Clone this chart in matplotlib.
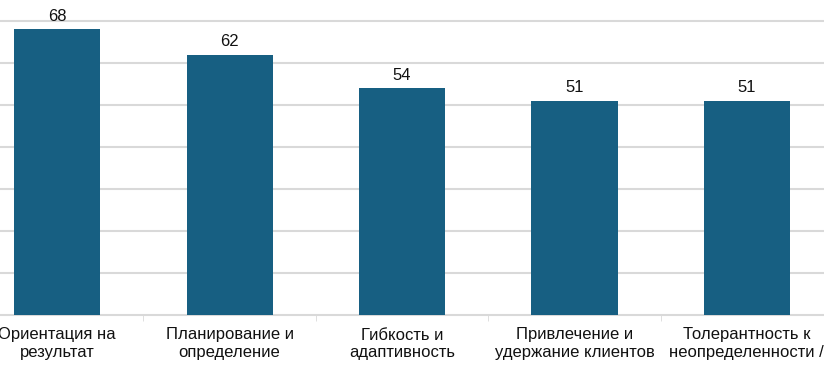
import matplotlib.pyplot as plt
import numpy as np

categories = [
    "Ориентация на\nрезультат",
    "Планирование и\nопределение",
    "Гибкость и\nадаптивность",
    "Привлечение и\nудержание клиентов",
    "Толерантность к\nнеопределенности /",
]
values = [68, 62, 54, 51, 51]

plt.rcParams["font.family"] = ["Liberation Sans", "DejaVu Sans"]

fig = plt.figure(figsize=(8.24, 3.65), dpi=100)
# axes runs past the figure edges, as in the cropped original
ax = fig.add_axes([-29 / 824, (365 - 315) / 365, 862 / 824, 336 / 365])

x = np.arange(len(categories))
bars = ax.bar(x, values, width=0.5, color="#175f82", zorder=3)

for b, v in zip(bars, values):
    ax.annotate(str(v), (b.get_x() + b.get_width() / 2, v),
                xytext=(0, 4), textcoords="offset points",
                ha="center", va="bottom", fontsize=12, color="#111111")

ax.set_xlim(-0.5, len(categories) - 0.5)
ax.set_ylim(0, 80)
ax.set_yticks(np.arange(10, 81, 10))
ax.yaxis.grid(True, color="#d9d9d9", linewidth=1.5, zorder=0)
ax.tick_params(axis="y", left=False, labelleft=False)

ax.set_xticks(x)
ax.set_xticklabels(categories, fontsize=12, color="#111111", linespacing=1.2)
ax.tick_params(axis="x", length=0, pad=9)
ax.set_xticks(np.arange(0.5, len(categories) - 0.5), minor=True)
ax.tick_params(axis="x", which="minor", length=4, color="#d9d9d9")

for s in ["top", "right", "left"]:
    ax.spines[s].set_visible(False)
ax.spines["bottom"].set_color("#d9d9d9")
ax.spines["bottom"].set_linewidth(1.5)

fig.savefig("out.png", dpi=100)
